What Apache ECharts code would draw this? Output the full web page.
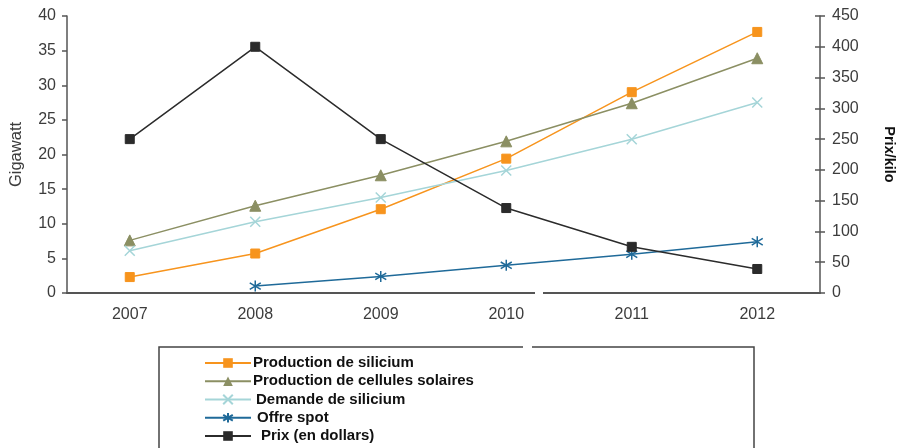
<!DOCTYPE html>
<html><head><meta charset="utf-8">
<script src="https://cdn.jsdelivr.net/npm/echarts@6/dist/echarts.min.js"></script>
<style>html,body{margin:0;padding:0;background:#fff}#c{width:904px;height:448px}</style>
</head><body><div id="c"></div>
<script>
const years = ['2007','2008','2009','2010','2011','2012'];
const prodSilicium = [2.3, 5.7, 12.1, 19.4, 29.0, 37.7];
const prodCellules = [7.6, 12.6, 17.0, 21.9, 27.4, 33.9];
const demandeSilicium = [6.1, 10.3, 13.8, 17.7, 22.2, 27.5];
const offreSpot = [null, 1.0, 2.4, 4.0, 5.6, 7.4];
const prix = [250, 400, 250, 138, 75, 39];
const leftTicks = {min: 0, max: 40, interval: 5};
const rightTicks = {min: 0, max: 450, interval: 50};
const seriesNames = ['Production de silicium', 'Production de cellules solaires', 'Demande de silicium', 'Offre spot', 'Prix (en dollars)'];

const FONT = '"Liberation Sans", Arial, sans-serif';
const chart = echarts.init(document.getElementById('c'), null, {renderer: 'canvas'});
const axisCol = '#555';
const lbl = {color: '#3c3c3c', fontSize: 16, fontFamily: FONT};

function ser(name, data, color, symbol, size, yIdx, extra) {
  return Object.assign({
    name, type: 'line', data, yAxisIndex: yIdx || 0,
    symbol, symbolSize: size, showSymbol: true,
    lineStyle: {color, width: 1.5},
    itemStyle: {color, borderColor: color},
    connectNulls: false, animation: false
  }, extra || {});
}

const legendIndent = [-3, -3, 0, 1, 5];

chart.setOption({
  animation: false,
  grid: {left: 66, right: 79, top: 16, bottom: 155},
  xAxis: [{
    type: 'category', data: years, boundaryGap: true,
    axisLine: {lineStyle: {color: axisCol, width: 2}},
    axisTick: {show: false},
    axisLabel: Object.assign({margin: 14}, lbl),
    splitLine: {show: false}
  }, {
    type: 'category', data: years, position: 'top',
    axisLine: {lineStyle: {color: axisCol, width: 1.5}},
    axisTick: {show: false}, axisLabel: {show: false}
  }],
  yAxis: [{
    type: 'value', min: leftTicks.min, max: leftTicks.max, interval: leftTicks.interval,
    position: 'left',
    name: 'Gigawatt', nameLocation: 'middle', nameGap: 42, nameRotate: 90,
    nameTextStyle: {color: '#3c3c3c', fontSize: 16.5, fontFamily: FONT},
    axisLine: {show: true, lineStyle: {color: axisCol, width: 1.5}},
    axisTick: {show: true, length: 5, lineStyle: {color: axisCol, width: 1.5}},
    axisLabel: Object.assign({margin: 11}, lbl),
    splitLine: {show: false}
  }, {
    type: 'value', min: rightTicks.min, max: rightTicks.max, interval: rightTicks.interval,
    position: 'right',
    name: 'Prix/kilo', nameLocation: 'middle', nameGap: 61, nameRotate: -90,
    nameTextStyle: {color: '#111', fontSize: 14.5, fontWeight: 'bold', fontFamily: FONT},
    axisLine: {show: true, lineStyle: {color: axisCol, width: 1.5}},
    axisTick: {show: true, length: 5, lineStyle: {color: axisCol, width: 1.5}},
    axisLabel: Object.assign({margin: 12}, lbl),
    splitLine: {show: false}
  }, {
    type: 'value', min: rightTicks.min, max: rightTicks.max, interval: rightTicks.interval,
    position: 'right',
    axisLine: {show: false},
    axisTick: {show: true, inside: true, length: 5, lineStyle: {color: axisCol, width: 1.5}},
    axisLabel: {show: false}, splitLine: {show: false}
  }],
  legend: {
    orient: 'vertical', left: 204, top: 355, padding: 0, height: 95,
    itemWidth: 46, itemHeight: 12, itemGap: 2.25,
    textStyle: {color: '#111', fontSize: 15, fontWeight: 'bold', fontFamily: FONT, lineHeight: 16, padding: [0,0,0,-3]},
    data: seriesNames.map((n, i) => ({name: n, textStyle: {padding: [0, 0, 0, legendIndent[i]]}}))
  },
  graphic: [
    {type: 'rect', shape: {x: 159, y: 347, width: 595, height: 130}, style: {fill: 'none', stroke: '#444', lineWidth: 1.5}, silent: true, z: 0},
    {type: 'rect', shape: {x: 523, y: 344, width: 9, height: 6}, style: {fill: '#fff'}, silent: true, z: 100},
    {type: 'rect', shape: {x: 535, y: 290, width: 8, height: 6}, style: {fill: '#fff'}, silent: true, z: 100}
  ],
  series: [
    ser(seriesNames[0], prodSilicium, '#f7941d', 'rect', 9),
    ser(seriesNames[1], prodCellules, '#8b8f63', 'triangle', 11),
    ser(seriesNames[2], demandeSilicium, '#a5d5d8', 'path://M0,0 L1,1 M1,0 L0,1', 10,
        0, {itemStyle: {color: '#a5d5d8', borderColor: '#a5d5d8', borderWidth: 1.5}}),
    ser(seriesNames[3], offreSpot, '#1f6a99', 'path://M0.5,0 L0.5,1 M0,0.2 L1,0.8 M0,0.8 L1,0.2', 11,
        0, {itemStyle: {color: '#1f6a99', borderColor: '#1f6a99', borderWidth: 1.5}}),
    ser(seriesNames[4], prix, '#2b2b2b', 'rect', 9, 1)
  ]
});
</script></body></html>
